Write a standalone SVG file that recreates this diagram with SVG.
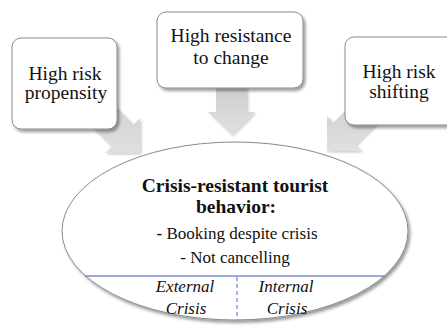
<svg xmlns="http://www.w3.org/2000/svg" width="447" height="326" viewBox="0 0 447 326">
<defs>
<filter id="sh" x="-20%" y="-20%" width="140%" height="140%">
<feDropShadow dx="2" dy="2.5" stdDeviation="1.8" flood-color="#000" flood-opacity="0.4"/>
</filter>
<filter id="sh2" x="-20%" y="-20%" width="140%" height="140%">
<feDropShadow dx="1.5" dy="1.5" stdDeviation="1.2" flood-color="#000" flood-opacity="0.2"/>
</filter>
<linearGradient id="ag" x1="0" y1="0" x2="0" y2="1">
<stop offset="0" stop-color="#cccccc"/>
<stop offset="1" stop-color="#e0e0e0"/>
</linearGradient>
<style>
.box{fill:#fff;stroke:#8a8a8a;stroke-width:1;filter:url(#sh)}
.arr{fill:url(#ag);stroke:none;filter:url(#sh2)}
.t{font-family:"Liberation Serif","Times New Roman",serif;fill:#111;text-anchor:middle}
.bt{font-size:19.5px}
.hd{font-size:19.5px;font-weight:bold}
.it{font-size:17px;font-style:italic}
.rg{font-size:17px}
.sep{stroke:#7d8ec8;stroke-width:1.3;fill:none}
</style>
</defs>
<g id="connectors">
<polygon class="arr" points="98.5,89.5 133.5,124.5 140,118 140,153 105,153 111.5,146.5 76.5,111.5"/>
<polygon class="arr" points="216,80 247,80 247,112 255,112 231.5,135 208,112 216,112"/>
<polygon class="arr" points="368.5,87.5 333.5,122.5 327,116 327,151 362,151 355.5,144.5 390.5,109.5"/>
</g>
<g id="node-propensity">
<rect class="box" x="12" y="38" width="105" height="91" rx="9"/>
<text class="t bt" x="65" y="80">High risk</text>
<text class="t bt" x="66" y="99">propensity</text>
</g>
<g id="node-resistance">
<rect class="box" x="157" y="12" width="146" height="76" rx="9"/>
<text class="t bt" x="231" y="42">High resistance</text>
<text class="t bt" x="231" y="64">to change</text>
</g>
<g id="node-shifting">
<rect class="box" x="345" y="37" width="112" height="88" rx="9"/>
<text class="t bt" x="399" y="78">High risk</text>
<text class="t bt" x="399" y="98">shifting</text>
</g>
<g id="node-behavior">
<ellipse cx="235" cy="231" rx="173" ry="89" fill="#fff" stroke="#8a8a8a" stroke-width="1" filter="url(#sh)"/>
<text class="t hd" x="235" y="192">Crisis-resistant tourist</text>
<text class="t hd" x="236" y="213">behavior:</text>
<text class="t rg" x="237" y="239"><tspan font-weight="bold">-</tspan> Booking despite crisis</text>
<text class="t rg" x="235" y="263">- Not cancelling</text>
<line class="sep" x1="85" y1="276" x2="385" y2="276"/>
<line class="sep" x1="237" y1="277" x2="237" y2="320" stroke-dasharray="4,3"/>
<text class="t it" x="185" y="292">External</text>
<text class="t it" x="186" y="314">Crisis</text>
<text class="t it" x="286" y="292">Internal</text>
<text class="t it" x="287" y="314">Crisis</text>
</g>
</svg>
